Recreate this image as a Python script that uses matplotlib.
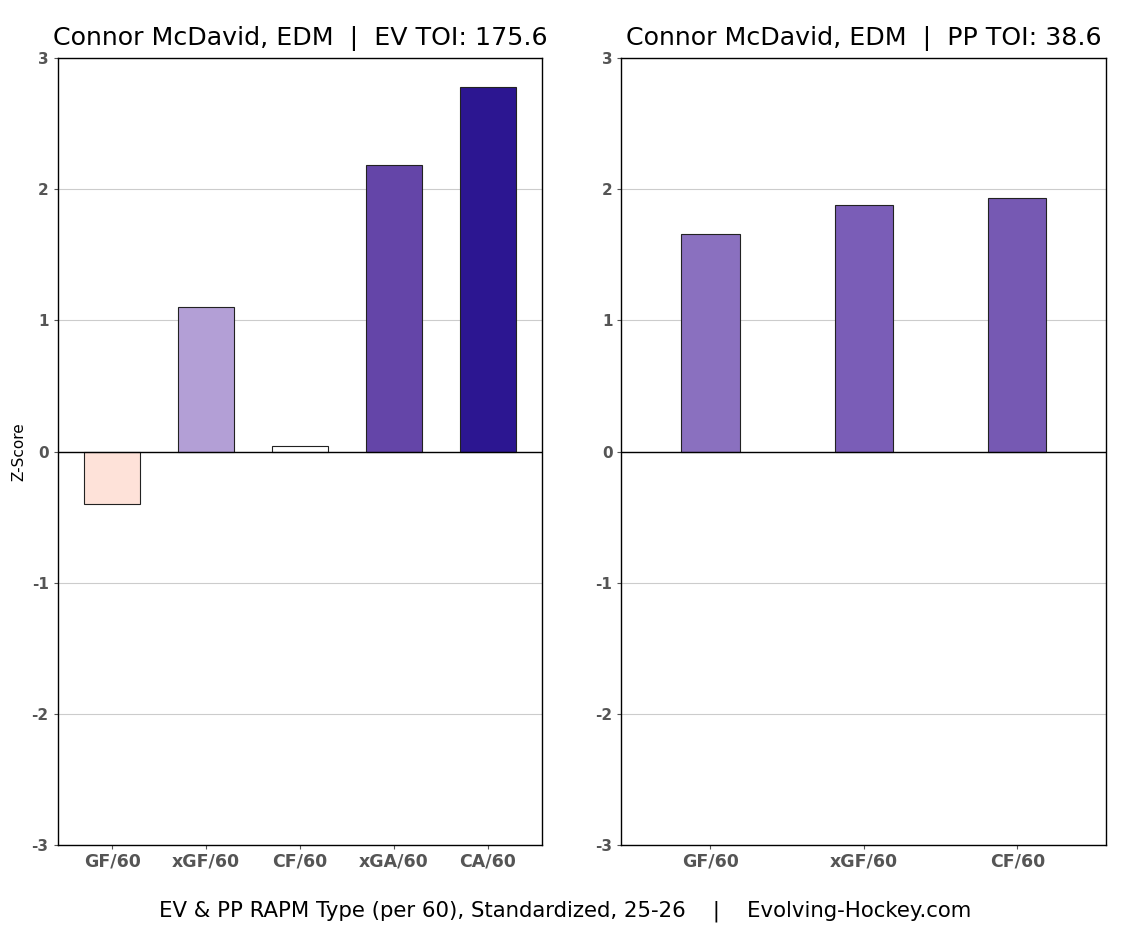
import matplotlib.pyplot as plt
import numpy as np

ev_labels = ['GF/60', 'xGF/60', 'CF/60', 'xGA/60', 'CA/60']
ev_values = [-0.40, 1.10, 0.04, 2.18, 2.78]
ev_colors = ['#fee2d9', '#b39fd6', '#ffffff', '#6445a8', '#2c1691']

pp_labels = ['GF/60', 'xGF/60', 'CF/60']
pp_values = [1.66, 1.88, 1.93]
pp_colors = ['#8a70bf', '#7a5db7', '#7659b3']

ev_title = 'Connor McDavid, EDM  |  EV TOI: 175.6'
pp_title = 'Connor McDavid, EDM  |  PP TOI: 38.6'
footer = 'EV & PP RAPM Type (per 60), Standardized, 25-26    |    Evolving-Hockey.com'

plt.rcParams['axes.unicode_minus'] = False


def draw_panel(ax, labels, values, colors, width, title):
    x = np.arange(len(labels))
    ax.bar(x, values, width=width, color=colors, edgecolor='#222222', linewidth=0.8, zorder=3)
    ax.axhline(0, color='black', linewidth=1.0, zorder=4)
    ax.set_ylim(-3, 3)
    ax.set_xlim(-0.58, len(labels) - 1 + 0.58)
    ax.set_yticks(range(-3, 4))
    ax.grid(axis='y', color='#cccccc', linewidth=0.8, zorder=0)
    ax.set_xticks(x)
    ax.set_xticklabels(labels)
    for lab in ax.get_xticklabels():
        lab.set_fontweight('bold')
        lab.set_color('#555555')
        lab.set_fontsize(12.5)
    for lab in ax.get_yticklabels():
        lab.set_fontweight('bold')
        lab.set_color('#555555')
        lab.set_fontsize(11)
    ax.tick_params(colors='#555555', length=3)
    ax.tick_params(axis='x', pad=2)
    ax.set_title(title, fontsize=18.2, pad=9)
    for s in ax.spines.values():
        s.set_color('black')
        s.set_linewidth(1.0)


fig, (ax1, ax2) = plt.subplots(1, 2, figsize=(11.3, 9.31), dpi=100)
fig.subplots_adjust(left=0.051, right=0.979, top=0.938, bottom=0.092, wspace=0.163)

draw_panel(ax1, ev_labels, ev_values, ev_colors, 0.6, ev_title)
draw_panel(ax2, pp_labels, pp_values, pp_colors, 0.38, pp_title)
ax1.set_ylabel('Z-Score', fontsize=11)

fig.text(0.5, 0.016, footer, ha='center', fontsize=15.3)

plt.savefig('out.png', dpi=100)
